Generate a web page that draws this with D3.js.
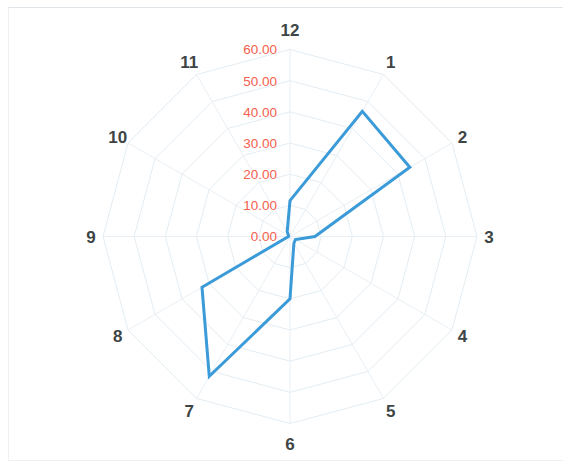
<!DOCTYPE html>
<html>
<head>
<meta charset="utf-8">
<script src="https://cdn.jsdelivr.net/npm/d3@7/dist/d3.min.js"></script>
<style>
  html, body { margin: 0; padding: 0; background: #fff; }
  svg { display: block; }
</style>
</head>
<body>
<svg id="chart" width="563" height="463"></svg>
<script>
// Radar chart: twelve clock positions, one series.
const categories = ["12", "1", "2", "3", "4", "5", "6", "7", "8", "9", "10", "11"];
const seriesValues = [11.5, 46.4, 44.4, 8.0, 2.0, 2.5, 20.0, 51.8, 32.6, 0.5, 0.5, 1.8];
const tickValues = [0, 10, 20, 30, 40, 50, 60];

const width = 563, height = 463;
const cx = 290, cy = 236.5, R = 187;

const svg = d3.select("#chart");

// chart frame
svg.append("rect")
  .attr("x", 8.5).attr("y", 7.5)
  .attr("width", width + 10).attr("height", 453)
  .attr("fill", "#fff")
  .attr("stroke", "#eef0f2").attr("stroke-width", 1);
svg.append("line")
  .attr("x1", 8.5).attr("x2", width).attr("y1", 7.5).attr("y2", 7.5)
  .attr("stroke", "#dfe4e8").attr("stroke-width", 1.2);

const angle = d3.scalePoint()
  .domain(categories)
  .range([0, 2 * Math.PI * (categories.length - 1) / categories.length]);

const r = d3.scaleLinear().domain([0, 60]).range([0, R]);

const g = svg.append("g").attr("transform", `translate(${cx},${cy})`);

const pt = (a, rad) => [rad * Math.sin(a), -rad * Math.cos(a)];

// concentric polygon grid
const ring = d3.line().curve(d3.curveLinearClosed);
g.selectAll("path.ring")
  .data(tickValues.filter(v => v > 0))
  .join("path")
  .attr("class", "ring")
  .attr("d", v => ring(categories.map(c => pt(angle(c), r(v)))))
  .attr("fill", "none")
  .attr("stroke", "#e4edf3")
  .attr("stroke-width", 1);

// spokes
g.selectAll("line.spoke")
  .data(categories)
  .join("line")
  .attr("class", "spoke")
  .attr("x1", 0).attr("y1", 0)
  .attr("x2", c => pt(angle(c), r(60))[0])
  .attr("y2", c => pt(angle(c), r(60))[1])
  .attr("stroke", "#e8eff4")
  .attr("stroke-width", 1);

// value axis labels along the top spoke
g.selectAll("text.tick")
  .data(tickValues)
  .join("text")
  .attr("class", "tick")
  .attr("x", -13)
  .attr("y", v => -r(v))
  .attr("dy", "0.36em")
  .attr("text-anchor", "end")
  .attr("font-family", "'Liberation Sans', Arial, sans-serif")
  .attr("font-size", 13.5)
  .attr("fill", "#f4604c")
  .text(v => d3.format(".2f")(v));

// series outline
const radar = d3.lineRadial()
  .angle((d, i) => angle(categories[i]))
  .radius(d => r(d))
  .curve(d3.curveLinearClosed);

g.append("path")
  .datum(seriesValues)
  .attr("d", radar)
  .attr("fill", "none")
  .attr("stroke", "#3b9ad8")
  .attr("stroke-width", 3)
  .attr("stroke-linejoin", "miter");

// category labels around the outside
g.selectAll("text.cat")
  .data(categories)
  .join("text")
  .attr("class", "cat")
  .each(function (c) {
    const a = angle(c);
    const rr = R + 12 + 8 * Math.pow(Math.abs(Math.cos(a)), 8);
    const [x, y] = pt(a, rr);
    d3.select(this).attr("x", x).attr("y", y);
  })
  .attr("dy", "0.36em")
  .attr("text-anchor", "middle")
  .attr("font-family", "'Liberation Sans', Arial, sans-serif")
  .attr("font-weight", "bold")
  .attr("font-size", 17)
  .attr("fill", "#3e4545")
  .text(c => c);
</script>
</body>
</html>
